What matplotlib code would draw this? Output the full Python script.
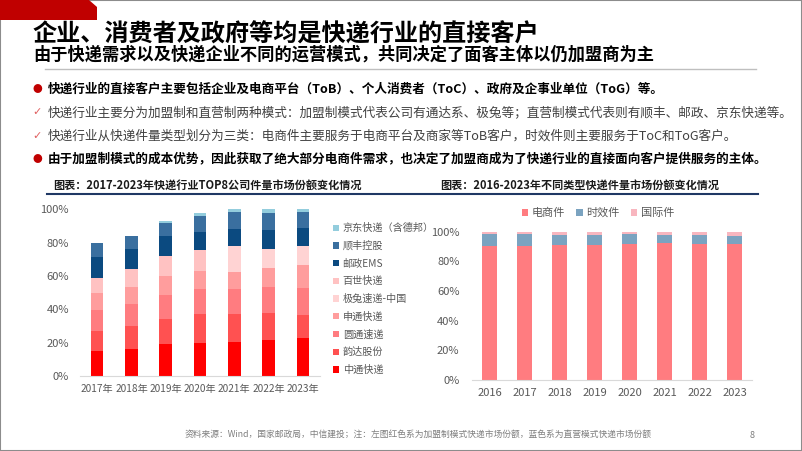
import numpy as np
import matplotlib
matplotlib.use('Agg')
import matplotlib.pyplot as plt
from matplotlib.patches import Polygon, Rectangle
from matplotlib.lines import Line2D

plt.rcParams['font.family'] = ['Noto Sans CJK SC', 'DejaVu Sans']

# 左图：TOP8公司件量市场份额
years_left = ['2017年', '2018年', '2019年', '2020年', '2021年', '2022年', '2023年']
zto = [15.0, 16.2, 19.0, 19.8, 20.2, 21.4, 22.6]
yunda = [12.2, 13.8, 15.4, 17.4, 17.0, 16.2, 14.2]
yto = [12.2, 13.4, 14.4, 15.0, 15.2, 16.0, 16.0]
sto = [10.2, 10.2, 11.4, 10.8, 10.2, 11.4, 13.6]
jitu = [0.0, 0.0, 0.0, 0.0, 15.6, 11.0, 11.4]
best = [9.2, 10.8, 12.0, 12.6, 0.0, 0.0, 0.0]
ems = [12.8, 11.8, 11.6, 10.6, 10.0, 11.6, 11.2]
sf = [8.0, 7.6, 7.8, 10.0, 10.0, 10.4, 9.2]
jd = [0.0, 0.0, 1.4, 1.4, 1.8, 2.0, 1.8]
left_names = ['中通快递', '韵达股份', '圆通速递', '申通快递', '极兔速递-中国', '百世快递', '邮政EMS', '顺丰控股', '京东快递（含德邦）']
left_series = [zto, yunda, yto, sto, jitu, best, ems, sf, jd]
left_colors = ['#FF0000', '#FF5151', '#FF7C80', '#FF9D9D', '#FFD3D3', '#FFC2C2', '#0B4A80', '#3A6F9F', '#93CDDD']

# 右图：不同类型快递件量市场份额
years_right = ['2016', '2017', '2018', '2019', '2020', '2021', '2022', '2023']
ecom = [90.3, 90.3, 90.8, 91.2, 91.9, 92.4, 91.9, 91.9]
timely = [7.9, 7.9, 7.0, 6.3, 6.3, 5.6, 6.1, 5.4]
intl = [1.8, 1.8, 2.2, 2.5, 1.8, 2.0, 2.0, 2.7]
right_names = ['电商件', '时效件', '国际件']
right_colors = ['#FF7C80', '#7BA3C0', '#F8B6BF']

bullets = [
    ('快递行业的直接客户主要包括企业及电商平台（ToB）、个人消费者（ToC）、政府及企事业单位（ToG）等。', True),
    ('快递行业主要分为加盟制和直营制两种模式：加盟制模式代表公司有通达系、极兔等；直营制模式代表则有顺丰、邮政、京东快递等。', False),
    ('快递行业从快递件量类型划分为三类：电商件主要服务于电商平台及商家等ToB客户，时效件则主要服务于ToC和ToG客户。', False),
    ('由于加盟制模式的成本优势，因此获取了绝大部分电商件需求，也决定了加盟商成为了快递行业的直接面向客户提供服务的主体。', True),
]

W, H = 802, 451
fig = plt.figure(figsize=(W / 100, H / 100), dpi=100)


def fx(x):
    return x / W


def fy(y):
    return 1 - y / H


# 页面边框和红色标签
fig.add_artist(Rectangle((0, 0), 1, 1, transform=fig.transFigure, fill=False,
                         edgecolor='#8C8C8C', lw=1.5))
fig.add_artist(Polygon([(fx(0), fy(0)), (fx(89), fy(0)), (fx(97), fy(7)), (fx(97), fy(20)), (fx(0), fy(20))],
                       closed=True, transform=fig.transFigure, facecolor='#C00000', edgecolor='none'))

fig.text(fx(33), fy(35), '企业、消费者及政府等均是快递行业的直接客户', fontsize=17.4,
         fontweight='bold', va='center', ha='left', color='black')
fig.text(fx(33), fy(55), '由于快递需求以及快递企业不同的运营模式，共同决定了面客主体以仍加盟商为主',
         fontsize=12.4, fontweight='bold', va='center', ha='left', color='black')
fig.add_artist(Line2D([fx(45), fx(756)], [fy(69), fy(69)], transform=fig.transFigure,
                      color='#BFBFBF', lw=1))

for i, (txt, strong) in enumerate(bullets):
    yy = fy(89 + i * 23.4)
    if strong:
        fig.text(fx(37), yy, '●', fontsize=7, color='#C00000', va='center', ha='center')
        fig.text(fx(48), yy, txt, fontsize=9.1, fontweight='bold', color='black', va='center')
    else:
        fig.text(fx(37), yy, '✓', fontsize=8, color='#E06060', va='center', ha='center',
                 family=['DejaVu Sans'])
        fig.text(fx(48), yy, txt, fontsize=9.1, color='#404040', va='center')

# 图表标题
fig.text(fx(53), fy(185), '图表：2017-2023年快递行业TOP8公司件量市场份额变化情况', fontsize=8,
         fontweight='bold', fontstyle='italic', color='#1A1A1A', va='center')
fig.text(fx(440), fy(185), '图表：2016-2023年不同类型快递件量市场份额变化情况', fontsize=8,
         fontweight='bold', fontstyle='italic', color='#1A1A1A', va='center')
fig.add_artist(Line2D([fx(47), fx(758)], [fy(194), fy(194)], transform=fig.transFigure,
                      color='#1F3864', lw=1.5))

# 左图
ax1 = fig.add_axes([fx(80), fy(376), fx(320) - fx(80), fy(209.3) - fy(376)])
x1 = np.arange(len(years_left))
bottom = np.zeros(len(years_left))
handles = []
for name, vals, c in zip(left_names, left_series, left_colors):
    v = np.array(vals) / 100
    b = ax1.bar(x1, v, 0.37, bottom=bottom, color=c, label=name)
    bottom += v
    handles.append(b)
ax1.set_xlim(-0.5, len(years_left) - 0.5)
ax1.set_ylim(0, 1)
ax1.set_yticks(np.arange(0, 1.01, 0.2))
ax1.set_yticklabels([f'{int(round(t * 100))}%' for t in np.arange(0, 1.01, 0.2)])
ax1.set_xticks(x1)
ax1.set_xticklabels(years_left)
for s in ['top', 'right', 'left']:
    ax1.spines[s].set_visible(False)
ax1.spines['bottom'].set_color('#D9D9D9')
ax1.tick_params(axis='y', length=0, labelsize=8, labelcolor='#595959', pad=8)
ax1.tick_params(axis='x', length=0, labelsize=7.3, labelcolor='#595959', pad=6)
ax1.legend(handles[::-1], left_names[::-1], loc='upper left',
           bbox_to_anchor=(fx(333), fy(223)), bbox_transform=fig.transFigure,
           frameon=False, fontsize=7.3, labelcolor='#595959', handlelength=0.55, handleheight=0.55,
           handletextpad=0.4, labelspacing=0.75, borderpad=0, borderaxespad=0)

# 右图
ax2 = fig.add_axes([fx(472), fy(380), fx(752) - fx(472), fy(231.7) - fy(380)])
x2 = np.arange(len(years_right))
bottom = np.zeros(len(years_right))
for name, vals, c in zip(right_names, [ecom, timely, intl], right_colors):
    v = np.array(vals) / 100
    ax2.bar(x2, v, 0.41, bottom=bottom, color=c, label=name)
    bottom += v
ax2.set_xlim(-0.5, len(years_right) - 0.5)
ax2.set_ylim(0, 1)
ax2.set_yticks(np.arange(0, 1.01, 0.2))
ax2.set_yticklabels([f'{int(round(t * 100))}%' for t in np.arange(0, 1.01, 0.2)])
ax2.set_xticks(x2)
ax2.set_xticklabels(years_right)
for s in ['top', 'right', 'left']:
    ax2.spines[s].set_visible(False)
ax2.spines['bottom'].set_color('#D9D9D9')
ax2.tick_params(axis='both', length=0, labelsize=8, labelcolor='#595959', pad=6)
ax2.tick_params(axis='y', pad=9)
ax2.legend(loc='center', bbox_to_anchor=(fx(598), fy(213)), bbox_transform=fig.transFigure,
           ncol=3, frameon=False, fontsize=8, labelcolor='#595959', handlelength=0.6,
           handleheight=0.6, handletextpad=0.3, columnspacing=1.0, borderpad=0)

# 脚注
fig.text(fx(185), fy(434), '资料来源：Wind，国家邮政局，中信建投；注：左图红色系为加盟制模式快递市场份额，蓝色系为直营模式快递市场份额',
         fontsize=6.3, color='#7F7F7F', va='center')
fig.text(fx(752), fy(435), '8', fontsize=6.5, color='#7F7F7F', va='center', ha='center')

fig.savefig('out.png', dpi=100)
